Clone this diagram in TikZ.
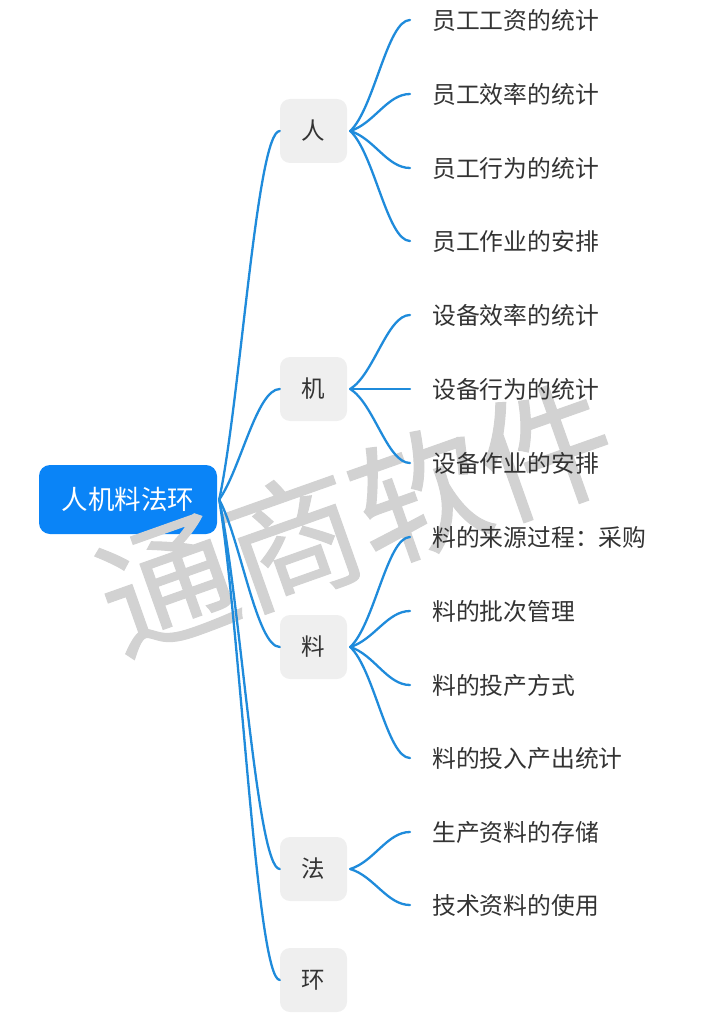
\documentclass[tikz,border=0pt]{standalone}
\usepackage{fontspec}
\setmainfont{Noto Sans CJK SC}
\newfontfamily\stampfont[FakeBold=0.8]{Noto Sans CJK SC}
\usetikzlibrary{calc}
\definecolor{rootblue}{HTML}{0A84F7}
\definecolor{linkblue}{HTML}{1F8BDB}
\definecolor{boxgray}{HTML}{EFEFEF}
\definecolor{inkgray}{HTML}{333333}
\definecolor{markgray}{HTML}{D2D2D2}
\tikzset{
    rootbox/.style={fill=rootblue, text=white, rounded corners=11pt, minimum width=178pt, minimum height=69pt, inner sep=0pt, font=\fontsize{26.5}{27}\selectfont},
    topic/.style={fill=boxgray, text=inkgray, rounded corners=10pt, minimum width=67pt, minimum height=64pt, inner sep=0pt, font=\fontsize{23.5}{24}\selectfont},
    leaf/.style={anchor=west, text=inkgray, inner xsep=22pt, inner ysep=0pt, font=\fontsize{23.8}{24}\selectfont},
    branch/.style={draw=linkblue, line width=2.3pt, line cap=round},
    stamp/.style={text=markgray, rotate=19.5, font=\stampfont\fontsize{134}{134}\selectfont}
}
% from, to, gap at the start, x and y share of the first control point
\newcommand{\linkup}[5]{
    \coordinate (linkstart) at ($(#1.east)+(#3,0)$);
    \coordinate (ctrlx) at ($(linkstart)!#4!(#2.west)$);
    \coordinate (ctrly) at ($(linkstart)!#5!(#2.west)$);
    \coordinate (ctrlend) at ($(linkstart)!.62!(#2.west)$);
    \draw[branch] (linkstart) .. controls (ctrlx |- ctrly) and (ctrlend |- #2.west) .. (#2.west);
}
\begin{document}
\begin{tikzpicture}[x=1pt, y=-1pt]
    \useasboundingbox (0, 0) rectangle (711, 1024);

    \node[rootbox] (root) at (128, 499.5) {人机料法环};
    \node[stamp] (mark) at (356, 517) {通商软件};

    \node[topic] (ren) at (313.5, 131) {人};
    \node[topic] (ji) at (313.5, 389) {机};
    \node[topic] (liao) at (313.5, 647) {料};
    \node[topic] (fa) at (313.5, 869) {法};
    \node[topic] (huan) at (313.5, 980) {环};

    \node[leaf] (ren1) at (410, 20) {员工工资的统计};
    \node[leaf] (ren2) at (410, 94) {员工效率的统计};
    \node[leaf] (ren3) at (410, 168) {员工行为的统计};
    \node[leaf] (ren4) at (410, 241) {员工作业的安排};
    \node[leaf] (ji1) at (410, 315) {设备效率的统计};
    \node[leaf] (ji2) at (410, 389) {设备行为的统计};
    \node[leaf] (ji3) at (410, 463) {设备作业的安排};
    \node[leaf] (liao1) at (410, 537) {料的来源过程：采购};
    \node[leaf] (liao2) at (410, 611) {料的批次管理};
    \node[leaf] (liao3) at (410, 685) {料的投产方式};
    \node[leaf] (liao4) at (410, 758) {料的投入产出统计};
    \node[leaf] (fa1) at (410, 832) {生产资料的存储};
    \node[leaf] (fa2) at (410, 905) {技术资料的使用};

    \foreach \topicname in {ren, ji, liao, fa, huan} {
        \linkup{root}{\topicname}{2}{.35}{.27}
    }
    \foreach \leafname in {ren1, ren2, ren3, ren4} {
        \linkup{ren}{\leafname}{3}{.4}{.2}
    }
    \foreach \leafname in {ji1, ji2, ji3} {
        \linkup{ji}{\leafname}{3}{.4}{.2}
    }
    \foreach \leafname in {liao1, liao2, liao3, liao4} {
        \linkup{liao}{\leafname}{3}{.4}{.2}
    }
    \foreach \leafname in {fa1, fa2} {
        \linkup{fa}{\leafname}{3}{.4}{.2}
    }
\end{tikzpicture}
\end{document}
